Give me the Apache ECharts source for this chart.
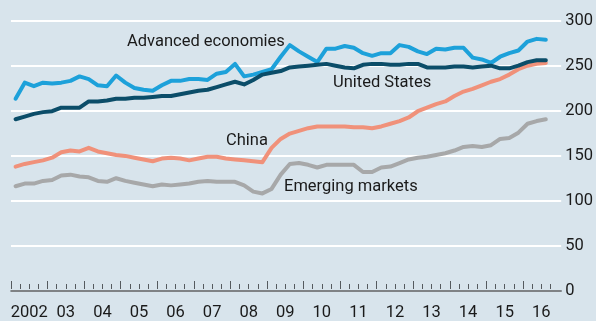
<!DOCTYPE html>
<html>
<head>
<meta charset="utf-8">
<script src="https://cdn.jsdelivr.net/npm/echarts@6/dist/echarts.min.js"></script>
<style>
  html, body { margin: 0; padding: 0; background: #d8e4ec; }
  #chart { width: 596px; height: 321px; }
</style>
</head>
<body>
<div id="chart"></div>
<script>
// Quarterly index values, Q1 2002 to Q3 2016
const firstYear = 2002;
const yearLabels = ['2002', '03', '04', '05', '06', '07', '08', '09', '10', '11', '12', '13', '14', '15', '16'];

const advanced = [
  213, 231, 227, 231, 230, 231, 233, 238, 235, 228,
  227, 239, 231, 225, 223, 222, 228, 233, 233, 235,
  235, 234, 241, 243, 252, 238, 240, 243, 246, 260,
  273, 266, 260, 254, 269, 269, 272, 270, 264, 261,
  264, 264, 273, 271, 266, 263, 269, 268, 270, 270,
  259, 257, 253, 260, 264, 267, 277, 280, 279
];
const unitedStates = [
  190, 193, 196, 198, 199, 203, 203, 203, 210, 210,
  211, 213, 213, 214, 214, 215, 216, 216, 218, 220,
  222, 223, 226, 229, 232, 229, 234, 240, 242, 244,
  248, 249, 250, 251, 252, 250, 248, 247, 251, 252,
  252, 251, 251, 252, 252, 248, 248, 248, 249, 249,
  248, 249, 250, 247, 247, 250, 254, 256, 256
];
const china = [
  137, 140, 142, 144, 147, 153, 155, 154, 158, 154,
  152, 150, 149, 147, 145, 143, 146, 147, 146, 144,
  146, 148, 148, 146, 145, 144, 143, 142, 158, 168,
  174, 177, 180, 182, 182, 182, 182, 181, 181, 180,
  182, 185, 188, 192, 199, 203, 207, 210, 216, 221,
  224, 228, 232, 235, 240, 246, 250, 252, 253
];
const emerging = [
  115, 118, 118, 121, 122, 127, 128, 126, 125, 121,
  120, 124, 121, 119, 117, 115, 117, 116, 117, 118,
  120, 121, 120, 120, 120, 116, 109, 107, 112, 128,
  140, 141, 139, 136, 139, 139, 139, 139, 131, 131,
  136, 137, 141, 145, 147, 148, 150, 152, 155, 159,
  160, 159, 161, 168, 169, 175, 185, 188, 190
];
const yMin = 0, yMax = 300, yStep = 50;

// Each value sits at the middle of its quarter
const atQuarters = vals => vals.map((v, i) => [firstYear + (i + 0.5) / 4, v]);
const lastYear = firstYear + yearLabels.length - 1;
const axisEnd = lastYear + 0.75;
const yearStarts = yearLabels.map((_, i) => firstYear + i);
const yearMids = yearStarts.map(y => y + 0.5);

const FONT = 'Roboto, "Liberation Sans", sans-serif';
const INK = '#1a1a1a';
const AXIS = '#555a5e';
const TEXT_SIZE = 16.5;

const chart = echarts.init(document.getElementById('chart'), null, { renderer: 'canvas' });

const line = (name, vals, color, z) => ({
  name, type: 'line', xAxisIndex: 1, yAxisIndex: 1,
  data: atQuarters(vals), showSymbol: false, z,
  lineStyle: { color, width: 4, join: 'round', cap: 'round' },
  emphasis: { disabled: true }
});

const tag = (text, x, y) => ({
  type: 'text', x, y,
  style: { text, fill: INK, font: TEXT_SIZE + 'px ' + FONT, align: 'left', verticalAlign: 'middle' }
});

chart.setOption({
  backgroundColor: '#d8e4ec',
  animation: false,
  grid: [
    { left: 11, right: 33, top: 21, bottom: 30 },
    { left: 11, width: 539.4, top: 21, bottom: 30 }
  ],
  xAxis: [
    { gridIndex: 0, type: 'value', min: 0, max: 1, z: 3,
      axisLine: { show: true, lineStyle: { color: AXIS, width: 1.5 } },
      axisTick: { show: false }, axisLabel: { show: false }, splitLine: { show: false } },
    { gridIndex: 1, type: 'value', position: 'bottom', min: firstYear, max: axisEnd, interval: 0.25, z: 3,
      axisLine: { show: false },
      axisTick: { show: true, inside: true, length: 5, lineStyle: { color: AXIS, width: 1 } },
      axisLabel: { show: false }, splitLine: { show: false } },
    { gridIndex: 1, type: 'value', position: 'bottom', min: firstYear, max: axisEnd, z: 3,
      axisLine: { show: false },
      axisTick: { show: true, inside: true, length: 8, customValues: yearStarts, lineStyle: { color: AXIS, width: 1 } },
      axisLabel: {
        show: true, customValues: yearMids, margin: 15,
        color: INK, fontSize: TEXT_SIZE, fontFamily: FONT,
        formatter: v => yearLabels[Math.floor(v) - firstYear]
      },
      splitLine: { show: false } }
  ],
  yAxis: [
    { gridIndex: 0, type: 'value', position: 'right', min: yMin, max: yMax, interval: yStep,
      axisLine: { show: false }, axisTick: { show: false },
      splitLine: { show: true, lineStyle: { color: '#ffffff', width: 2 } },
      axisLabel: { margin: 4, color: INK, fontSize: TEXT_SIZE, fontFamily: FONT } },
    { gridIndex: 1, type: 'value', min: yMin, max: yMax, show: false }
  ],
  series: [
    line('Emerging markets', emerging, '#a7a8a9', 2),
    line('China', china, '#f0917a', 3),
    line('Advanced economies', advanced, '#1da1da', 4),
    line('United States', unitedStates, '#0b4d69', 5)
  ],
  graphic: [
    tag('Advanced economies', 127, 42),
    tag('United States', 333, 83),
    tag('China', 226, 141),
    tag('Emerging markets', 284, 187)
  ]
});
</script>
</body>
</html>
